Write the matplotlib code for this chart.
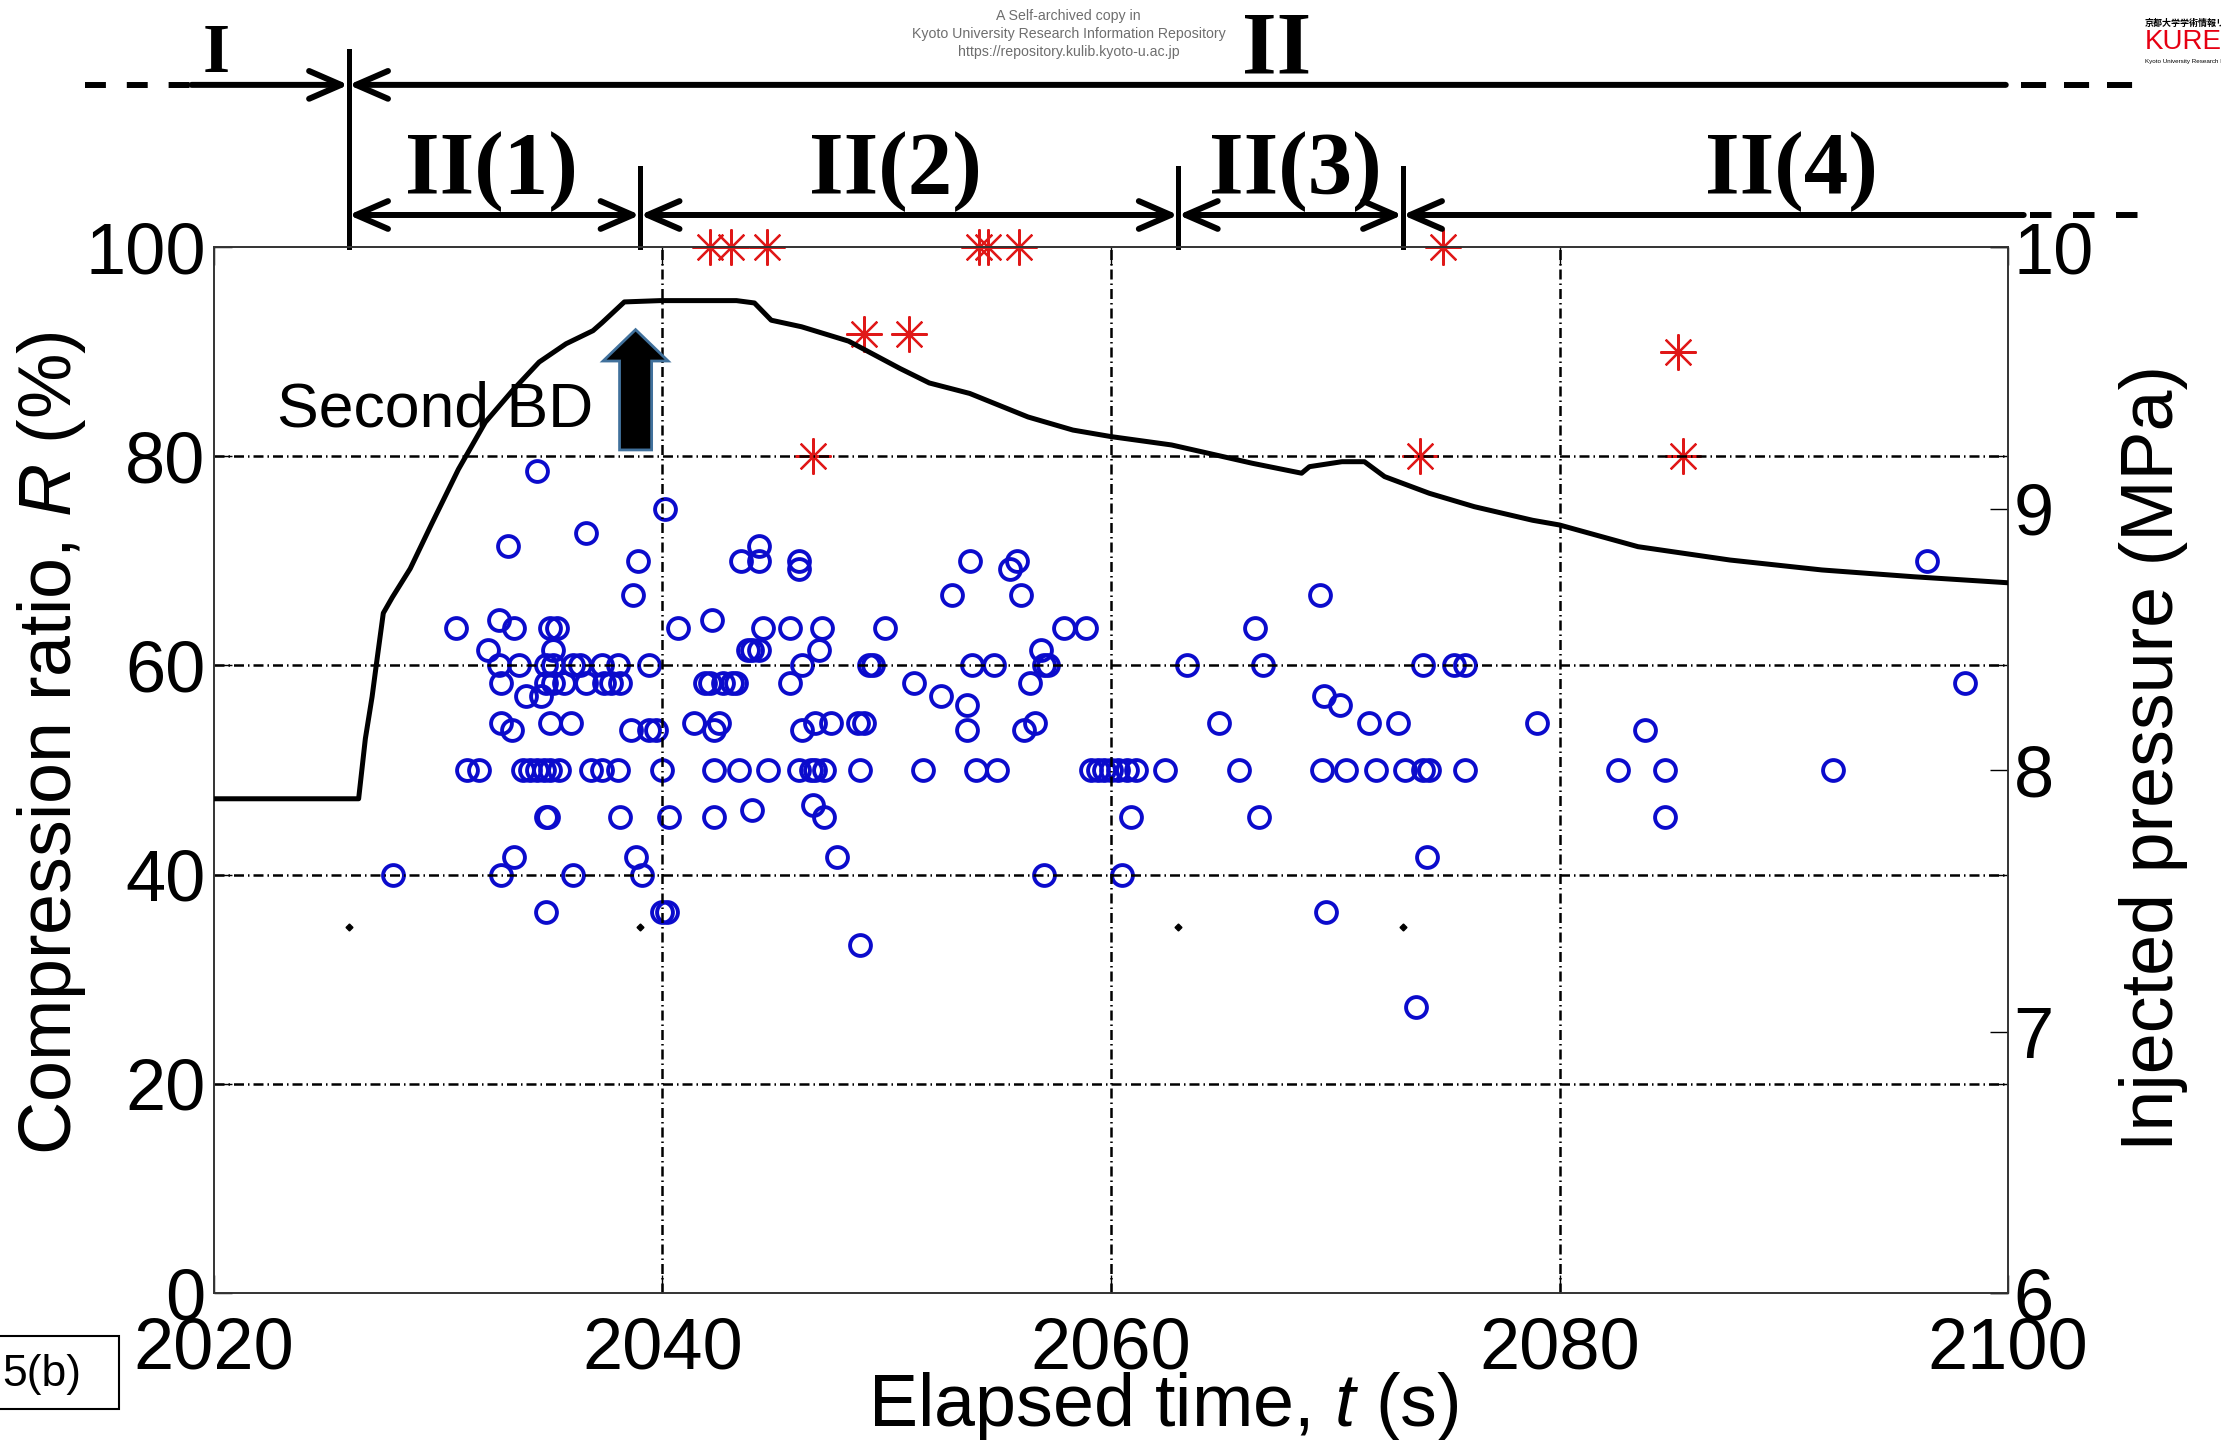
import matplotlib
matplotlib.use("Agg")
import matplotlib.pyplot as plt
from matplotlib.patches import FancyArrow, Rectangle

# injected pressure trace (MPa)
pressure_time = [2020.0, 2026.45, 2026.75, 2027.05, 2027.25, 2027.55, 2027.95, 2028.75,
                 2029.7, 2030.9, 2032.1, 2033.3, 2034.5, 2035.7, 2036.9, 2037.3, 2038.3,
                 2039.9, 2041.3, 2043.3, 2044.1, 2044.85, 2046.2, 2048.3, 2050.6, 2051.9,
                 2053.7, 2056.3, 2058.3, 2060.0, 2062.7, 2064.3, 2066.3, 2068.5, 2068.85,
                 2070.3, 2071.3, 2072.2, 2074.2, 2076.2, 2078.8, 2080.0, 2083.5, 2087.6,
                 2091.7, 2095.8, 2100.0]
pressure_mpa = [7.89, 7.89, 8.12, 8.28, 8.41, 8.60, 8.66, 8.77,
                8.94, 9.15, 9.33, 9.45, 9.56, 9.63, 9.68, 9.71, 9.79,
                9.795, 9.795, 9.795, 9.786, 9.72, 9.695, 9.64, 9.535, 9.48,
                9.44, 9.35, 9.30, 9.275, 9.243, 9.212, 9.173, 9.135, 9.16,
                9.179, 9.179, 9.122, 9.058, 9.007, 8.955, 8.937, 8.854, 8.803,
                8.765, 8.739, 8.716]

# compression ratio of each event (blue circles), grouped by ratio level
circle_levels = [78.6, 75.0, 72.7, 71.4, 70.0, 69.2, 66.7, 64.3, 63.6, 61.5, 60.0,
                 58.3, 57.1, 56.2, 54.5, 53.8, 50.0, 46.7, 46.2, 45.5, 41.7, 40.0,
                 36.4, 33.3, 27.3]
circle_times = [
    [2034.4],
    [2040.1],
    [2036.6],
    [2033.1, 2044.3],
    [2038.9, 2043.5, 2044.3, 2046.1, 2053.7, 2055.8, 2096.4],
    [2046.1, 2055.5],
    [2038.7, 2052.9, 2056.0, 2069.3],
    [2032.7, 2042.2],
    [2030.8, 2033.4, 2035.0, 2035.3, 2040.7, 2044.5, 2045.7, 2047.1, 2049.9, 2057.9,
     2058.9, 2066.4],
    [2032.2, 2035.1, 2043.8, 2044.0, 2044.3, 2047.0, 2056.9],
    [2032.7, 2033.6, 2034.8, 2035.1, 2036.0, 2036.3, 2037.3, 2038.0, 2039.4, 2046.2,
     2049.2, 2049.4, 2053.8, 2054.8, 2057.0, 2057.2, 2063.4, 2066.8, 2073.9, 2075.3,
     2075.8],
    [2032.8, 2034.8, 2035.1, 2035.6, 2036.6, 2037.4, 2037.7, 2038.1, 2041.9, 2042.1,
     2042.7, 2043.1, 2043.3, 2045.7, 2051.2, 2056.4, 2098.1],
    [2033.9, 2034.6, 2052.4, 2069.5],
    [2053.6, 2070.2],
    [2032.8, 2035.0, 2035.9, 2041.4, 2042.5, 2046.8, 2047.5, 2048.7, 2049.0, 2056.6,
     2064.8, 2071.5, 2072.8, 2079.0],
    [2033.3, 2038.6, 2039.4, 2039.7, 2042.3, 2046.2, 2053.6, 2056.1, 2083.8],
    [2031.3, 2031.8, 2033.8, 2034.1, 2034.4, 2034.7, 2035.0, 2035.4, 2036.8, 2037.3,
     2038.0, 2040.0, 2042.3, 2043.4, 2044.7, 2046.1, 2046.6, 2046.8, 2047.2, 2048.8,
     2051.6, 2054.0, 2054.9, 2059.1, 2059.4, 2059.7, 2060.0, 2060.3, 2060.7, 2061.1,
     2062.4, 2065.7, 2069.4, 2070.5, 2071.8, 2073.1, 2073.9, 2074.2, 2075.8, 2082.6,
     2084.7, 2092.2],
    [2046.7],
    [2044.0],
    [2034.8, 2034.9, 2038.1, 2040.3, 2042.3, 2047.2, 2060.9, 2066.6, 2084.7],
    [2033.4, 2038.8, 2047.8, 2074.1],
    [2028.0, 2032.8, 2036.0, 2039.1, 2057.0, 2060.5],
    [2034.8, 2040.0, 2040.2, 2069.6],
    [2048.8],
    [2073.6],
]

# events plotted with red asterisks
star_time = [2042.1, 2043.05, 2044.65, 2054.1, 2054.5, 2055.9, 2074.8,
             2049.0, 2051.0, 2046.7, 2073.8, 2085.3, 2085.5]
star_ratio = [100, 100, 100, 100, 100, 100, 100, 91.7, 91.7, 80, 80, 90, 80]

# stage boundaries (s) and the small marks drawn at R = 35 %
stage_bounds = [2026, 2039, 2063, 2073]
stage_mark_ratio = 35
sub_stage_labels = ["II(1)", "II(2)", "II(3)", "II(4)"]
sub_stage_centres = [2032.35, 2050.4, 2068.2, 2090.35]

grid_ratio = [20, 40, 60, 80]
grid_time = [2040, 2060, 2080]

BLUE = "#0b0bcc"
RED = "#e01818"

plt.rcParams["font.family"] = ["Liberation Sans", "DejaVu Sans"]
plt.rcParams["mathtext.fontset"] = "custom"
plt.rcParams["mathtext.rm"] = "Liberation Sans"
plt.rcParams["mathtext.it"] = "Liberation Sans:italic"

fig = plt.figure(figsize=(22.21, 14.40), dpi=100)
ax = fig.add_axes([0.09635, 0.10208, 0.80775, 0.72639])
ax2 = ax.twinx()

# ratio events
ct = [t for times in circle_times for t in times]
cr = [lvl for lvl, times in zip(circle_levels, circle_times) for _ in times]
ax.plot(ct, cr, ls="none", marker="o", ms=15, mfc="none", mec=BLUE, mew=2.8, zorder=2)
ax.plot(star_time, star_ratio, ls="none", marker=(8, 2, 0), ms=26, mec=RED, mew=1.6,
        zorder=2, clip_on=False)
ax.plot(stage_bounds, [stage_mark_ratio] * len(stage_bounds), ls="none", marker="D",
        ms=3.5, color="black", zorder=2)

grid_style = dict(color="black", lw=1.8, ls=(0, (4, 1.6, 0.6, 1.6)), zorder=2.5)
for r in grid_ratio:
    ax.axhline(r, **grid_style)
for t in grid_time:
    ax.axvline(t, **grid_style)

ax.set_xlim(2020, 2100)
ax.set_ylim(0, 100)
ax.set_xticks([2020, 2040, 2060, 2080, 2100])
ax.set_yticks([0, 20, 40, 60, 80, 100])
ax.tick_params(axis="both", direction="in", length=13, width=1.0, labelsize=52,
               top=True, right=True)
ax.tick_params(axis="x", pad=17)
ax.tick_params(axis="y", pad=6)

# pressure on the right axis
ax2.plot(pressure_time, pressure_mpa, color="black", lw=3.6, zorder=3)
ax2.set_ylim(6, 10)
ax2.set_yticks([6, 7, 8, 9, 10])
ax2.tick_params(axis="y", direction="in", length=13, width=1.0, labelsize=52, pad=4)

for a in (ax, ax2):
    for sp in a.spines.values():
        sp.set_color("#333333")
        sp.set_linewidth(1.2)

# "Second BD" annotation
ax.add_patch(FancyArrow(2038.8, 80.6, 0, 11.5, width=1.43, head_width=2.9, head_length=3.0,
                        length_includes_head=True, fc="black", ec="#41719c", lw=2,
                        zorder=4))
ax.text(2022.8, 82.8, "Second BD", fontsize=45, ha="left", va="baseline", zorder=5)

# stage bars above the plot
row1, row2 = 115.5, 103.06
bar = dict(color="black", lw=4.3, solid_capstyle="butt", clip_on=False)


def bar_arrow(x0, x1, y, heads):
    ax.annotate("", xy=(x1, y), xytext=(x0, y), annotation_clip=False,
                arrowprops=dict(arrowstyle=heads + ",head_length=1.15,head_width=0.5",
                                lw=4.3, color="black", shrinkA=0, shrinkB=0,
                                mutation_scale=20))


ax.plot([2014.25, 2019.0], [row1, row1], dashes=(3.5, 3.5), **bar)
ax.plot([2100.6, 2105.6], [row1, row1], dashes=(4.2, 3.0), **bar)
ax.plot([2101.0, 2105.8], [row2, row2], dashes=(3.6, 3.6), **bar)
bar_arrow(2019.0, stage_bounds[0], row1, "->")
bar_arrow(stage_bounds[0], 2099.9, row1, "<-")
ends = stage_bounds + [2100.7]
for i in range(4):
    bar_arrow(ends[i], ends[i + 1], row2, "<->" if i < 3 else "<-")
ax.plot([stage_bounds[0]] * 2, [100, 118.7], color="black", lw=3.6, clip_on=False)
for b in stage_bounds[1:]:
    ax.plot([b, b], [100, 107.6], color="black", lw=3.6, clip_on=False)

serif = dict(family="Liberation Serif", weight="bold", ha="center", va="baseline")
ax.text(2020.1, 116.73, "I", fontsize=50, **serif)
ax.text(2067.4, 116.73, "II", fontsize=64, **serif)
for lab, tc in zip(sub_stage_labels, sub_stage_centres):
    ax.text(tc, 105.16, lab, fontsize=64, **serif)

# axis labels
fig.text(0.0234, 0.4837, "Compression ratio, $R$ (%)", rotation=90, fontsize=53,
         ha="center", va="center")
fig.text(0.9698, 0.4736, "Injected pressure (MPa)", rotation=90, fontsize=53,
         ha="center", va="center")
fig.text(0.5236, 0.0232, "Elapsed time, $t$ (s)", fontsize=53, ha="center", va="center")

# repository header and figure tag
fig.text(0.4812, 0.9764,
         "A Self-archived copy in\nKyoto University Research Information Repository\n"
         "https://repository.kulib.kyoto-u.ac.jp",
         fontsize=10.2, color="#6e6e6e", ha="center", va="center", linespacing=1.35)
fig.text(0.9658, 0.984, "京都大学学術情報リポジトリ", fontsize=6.5, weight="bold",
         family=["Noto Sans CJK JP", "DejaVu Sans"], ha="left", va="center")
fig.text(0.9658, 0.9705, "KURENAI", fontsize=20, color="#e60012", ha="left", va="center")
fig.text(0.9658, 0.957, "Kyoto University Research Information Repository", fontsize=4.5,
         ha="left", va="center")

fig.add_artist(Rectangle((-0.002, 0.0215), 0.0557, 0.0507, transform=fig.transFigure,
                         fill=False, lw=1.5, ec="black"))
fig.text(0.001, 0.0458, "5(b)", fontsize=32, ha="left", va="center")

fig.savefig("out.png", dpi=100)
